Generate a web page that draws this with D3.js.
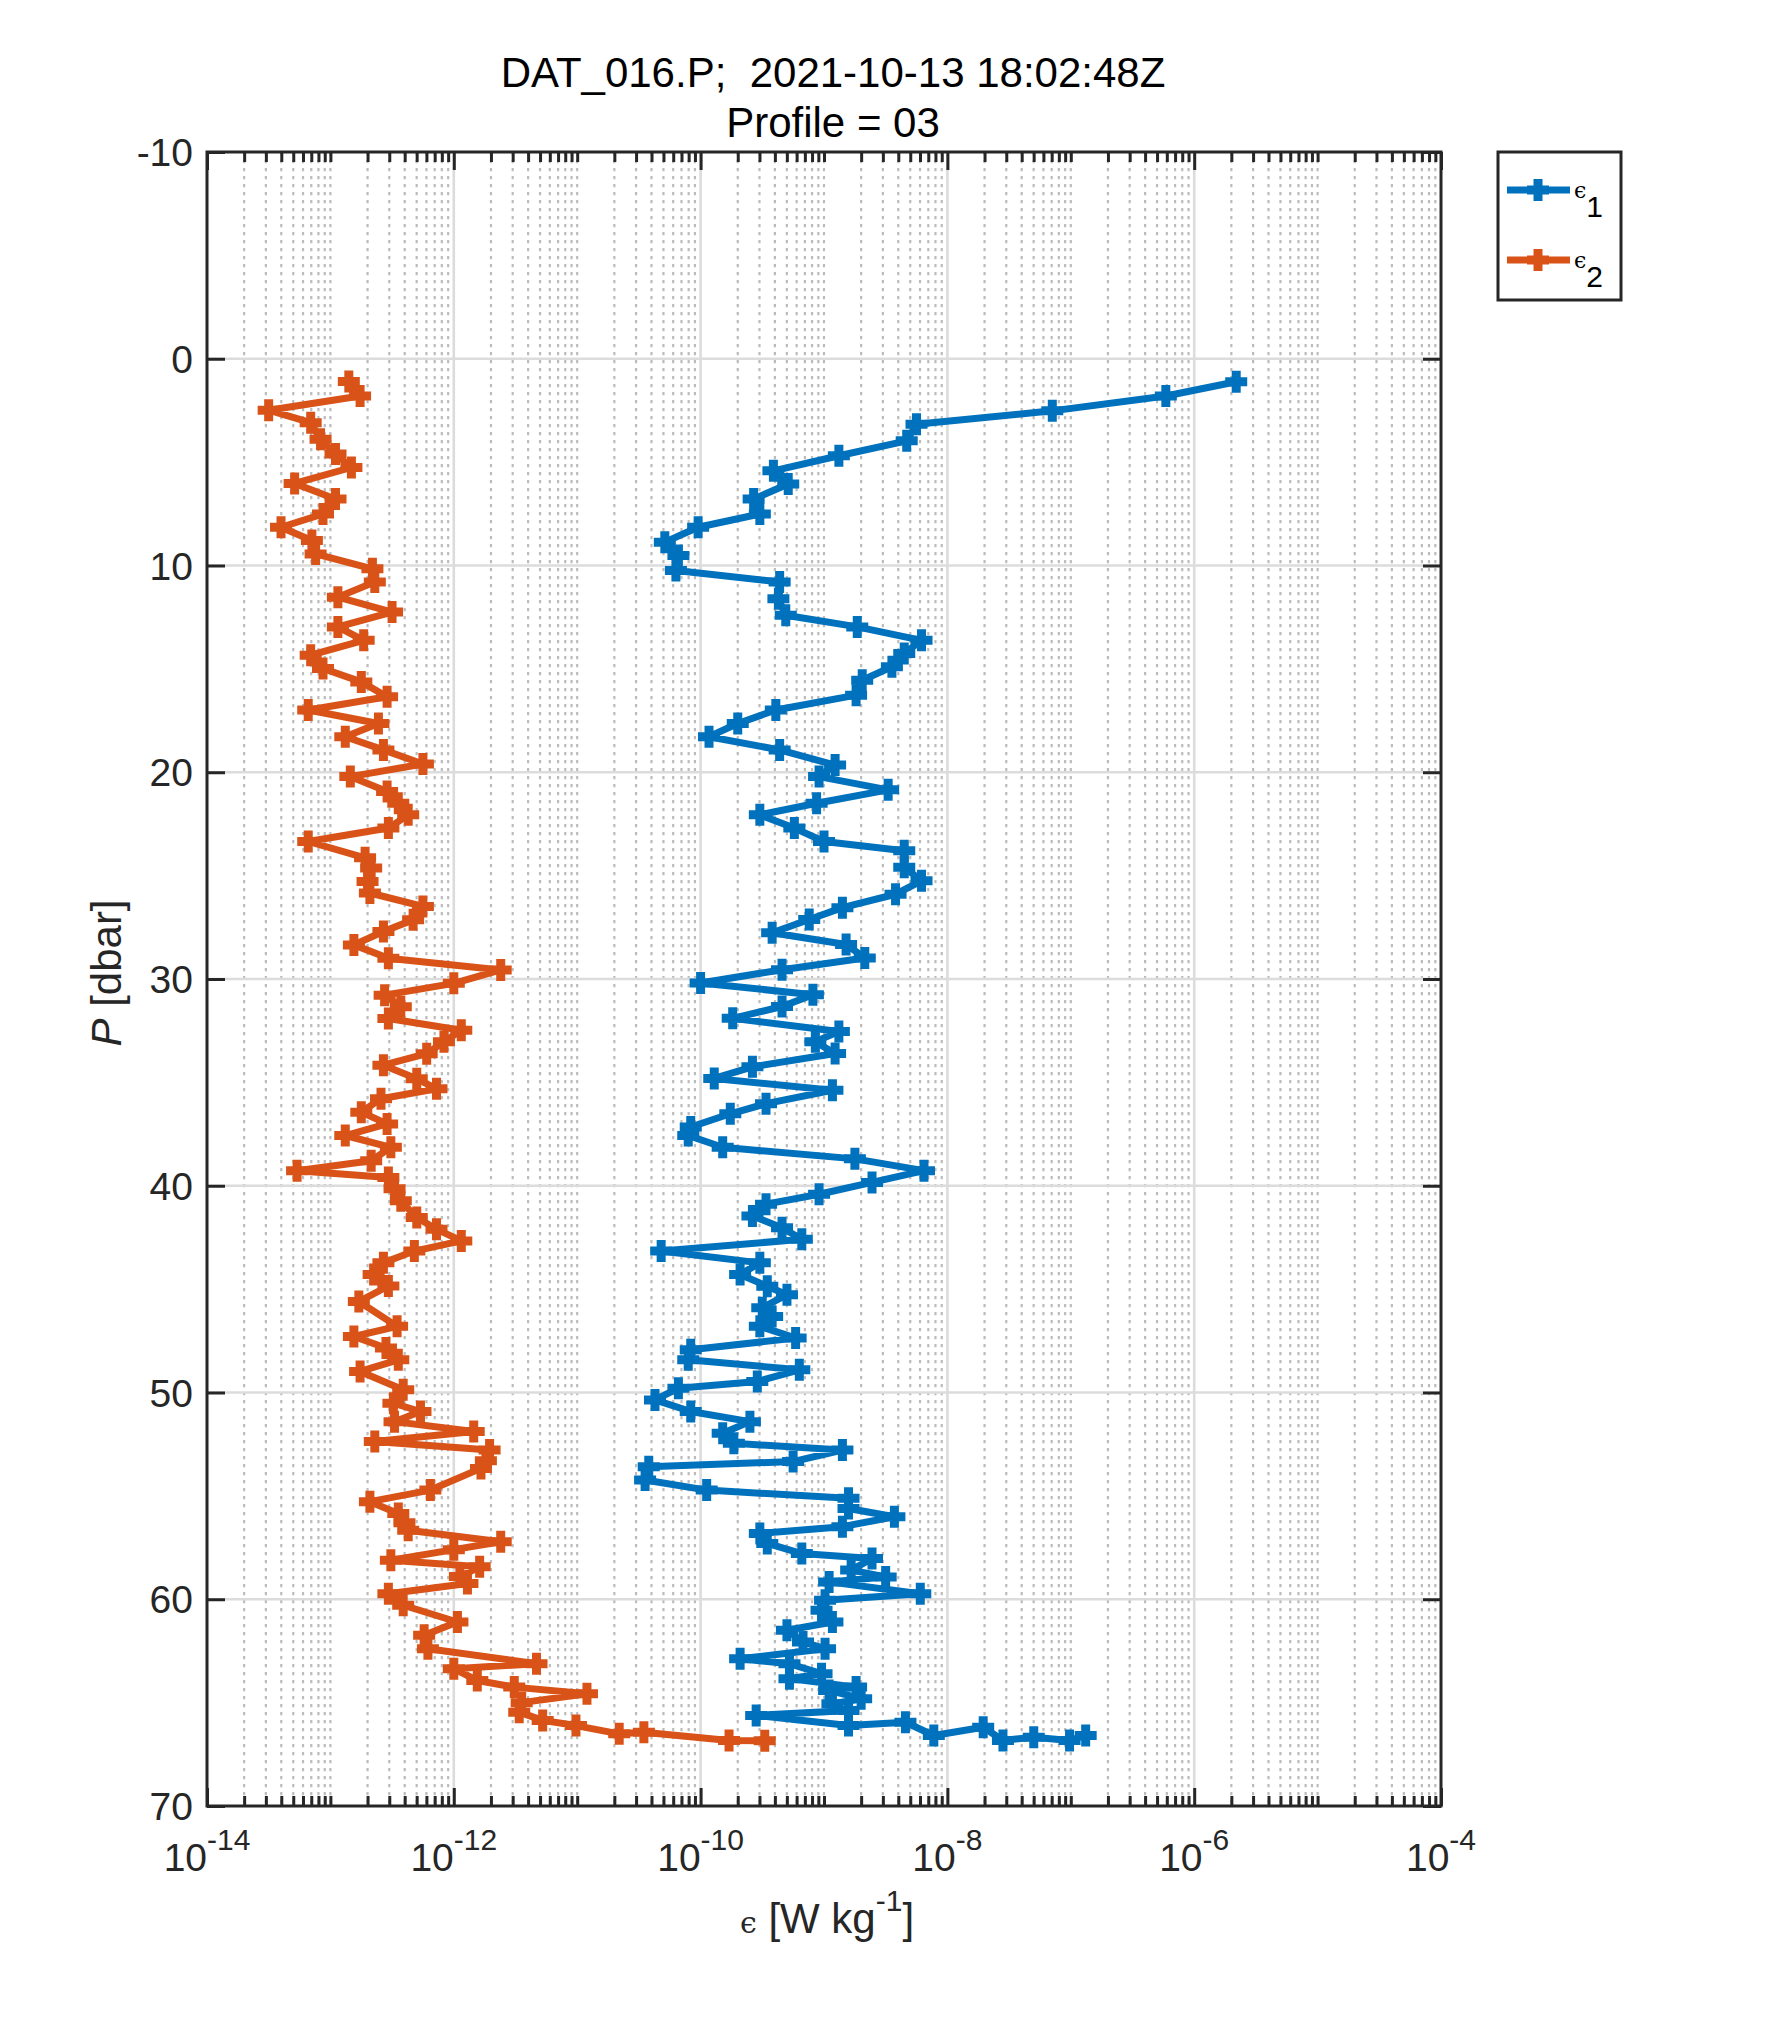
<!DOCTYPE html>
<html>
<head>
<meta charset="utf-8">
<script src="https://cdn.jsdelivr.net/npm/d3@7"></script>
<style>
  html, body { margin: 0; padding: 0; background: #ffffff; }
  svg { display: block; }
  text { font-family: "Liberation Sans", Arial, Helvetica, sans-serif; white-space: pre; }
</style>
</head>
<body>
<svg id="chart" width="1772" height="2029"></svg>
<script>
// ---------------- data ----------------
const titleLines = ["DAT_016.P;\u00A0 2021-10-13 18:02:48Z", "Profile = 03"];
const seriesNames = ["1", "2"];
const yTicks = [-10, 0, 10, 20, 30, 40, 50, 60, 70];
const xTickExponents = [-14, -12, -10, -8, -6, -4];

// epsilon_1 (blue)
const pressure1 = [1.11, 1.80, 2.52, 3.17, 3.97, 4.69, 5.42, 6.06, 6.78, 7.51, 8.15, 8.87, 9.52, 10.24,
  10.80, 11.61, 12.41, 12.97, 13.62, 14.26, 14.90, 15.55, 16.27, 16.99, 17.64, 18.28, 18.92, 19.65,
  20.21, 20.85, 21.50, 22.06, 22.70, 23.35, 23.80, 24.60, 25.25, 25.90, 26.55, 27.12, 27.76, 28.33,
  28.98, 29.55, 30.19, 30.76, 31.33, 31.90, 32.54, 33.03, 33.60, 34.25, 34.81, 35.38, 36.03, 36.52,
  37.16, 37.57, 38.14, 38.70, 39.27, 39.84, 40.41, 40.89, 41.46, 42.03, 42.59, 43.16, 43.73, 44.29,
  44.86, 45.27, 45.90, 46.32, 46.80, 47.37, 47.93, 48.42, 48.90, 49.47, 49.79, 50.36, 50.92, 51.41,
  51.97, 52.46, 52.78, 53.34, 53.59, 54.23, 54.72, 55.12, 55.61, 56.01, 56.49, 56.82, 57.30, 57.79,
  58.03, 58.59, 58.92, 59.16, 59.73, 60.05, 60.53, 61.10, 61.50, 62.07, 62.39, 62.88, 63.12, 63.60,
  63.84, 64.25, 64.41, 64.81, 65.06, 65.38, 65.62, 66.11, 65.95, 66.59, 66.19, 66.83, 66.67, 66.83, 66.59];
const eps1 = [2.19e-6, 5.89e-7, 7.08e-8, 5.62e-9, 4.68e-9, 1.32e-9, 3.89e-10, 5.13e-10, 2.69e-10, 3.02e-10, 9.55e-11, 5.13e-11, 6.61e-11, 6.31e-11,
  4.37e-10, 4.27e-10, 4.90e-10, 1.86e-9, 6.17e-9, 4.47e-9, 3.55e-9, 2.04e-9, 1.82e-9, 4.07e-10, 2.00e-10, 1.17e-10, 4.37e-10, 1.23e-9,
  9.12e-10, 3.31e-9, 8.71e-10, 3.02e-10, 5.75e-10, 1.00e-9, 4.47e-9, 4.47e-9, 6.17e-9, 3.80e-9, 1.41e-9, 7.59e-10, 3.80e-10, 1.51e-9,
  2.14e-9, 4.57e-10, 1.00e-10, 8.13e-10, 4.57e-10, 1.82e-10, 1.32e-9, 8.51e-10, 1.23e-9, 2.63e-10, 1.29e-10, 1.17e-9, 3.39e-10, 1.74e-10,
  8.32e-11, 7.94e-11, 1.51e-10, 1.78e-9, 6.46e-9, 2.45e-9, 9.12e-10, 3.39e-10, 2.63e-10, 4.57e-10, 6.61e-10, 4.79e-11, 3.02e-10, 2.09e-10,
  3.47e-10, 5.01e-10, 3.16e-10, 3.80e-10, 3.02e-10, 5.89e-10, 8.32e-11, 7.94e-11, 6.31e-10, 2.88e-10, 6.61e-11, 4.27e-11, 8.32e-11, 2.51e-10,
  1.51e-10, 1.86e-10, 1.41e-9, 5.62e-10, 3.80e-11, 3.55e-11, 1.12e-10, 1.58e-9, 1.58e-9, 3.72e-9, 1.41e-9, 3.02e-10, 3.47e-10, 6.61e-10,
  2.45e-9, 1.66e-9, 3.16e-9, 1.10e-9, 6.03e-9, 1.02e-9, 9.55e-10, 1.17e-9, 5.01e-10, 6.76e-10, 1.02e-9, 2.09e-10, 5.25e-10, 9.55e-10,
  5.25e-10, 1.82e-9, 1.10e-9, 2.00e-9, 1.17e-9, 1.58e-9, 2.82e-10, 1.58e-9, 4.57e-9, 7.76e-9, 1.95e-8, 2.82e-8, 5.01e-8, 9.77e-8, 1.32e-7];

// epsilon_2 (orange)
const pressure2 = [1.10, 1.80, 2.49, 3.09, 3.89, 4.61, 5.26, 6.03, 6.78, 7.51, 8.15, 8.79, 9.44, 10.16,
  10.80, 11.53, 12.25, 12.97, 13.62, 14.34, 14.98, 15.63, 16.35, 16.99, 17.64, 18.28, 18.92, 19.60,
  20.21, 20.93, 21.50, 22.06, 22.70, 23.35, 24.14, 24.63, 25.28, 25.84, 26.49, 27.14, 27.70, 28.35,
  29.00, 29.56, 30.21, 30.78, 31.34, 31.91, 32.48, 33.04, 33.61, 34.17, 34.82, 35.31, 35.79, 36.44,
  37.01, 37.57, 38.14, 38.79, 39.27, 39.60, 40.15, 40.73, 41.54, 42.10, 42.67, 43.16, 43.72, 44.29,
  44.85, 45.60, 46.80, 47.29, 47.85, 48.42, 48.98, 49.87, 50.52, 50.92, 51.41, 51.89, 52.37, 52.78,
  53.30, 53.67, 54.72, 55.28, 55.85, 56.30, 56.66, 57.22, 57.60, 58.11, 58.43, 58.90, 59.24, 59.73,
  60.29, 61.10, 61.74, 62.39, 63.12, 63.36, 63.93, 64.25, 64.57, 65.00, 65.46, 65.86, 66.11, 66.51,
  66.43, 66.83, 66.85];
const eps2 = [1.41e-13, 1.74e-13, 3.16e-14, 6.92e-14, 8.32e-14, 1.10e-13, 1.48e-13, 5.13e-14, 1.10e-13, 8.71e-14, 3.98e-14, 7.08e-14, 7.59e-14, 2.19e-13,
  2.29e-13, 1.15e-13, 3.16e-13, 1.15e-13, 1.86e-13, 6.92e-14, 8.71e-14, 1.78e-13, 2.88e-13, 6.61e-14, 2.45e-13, 1.32e-13, 2.69e-13, 5.62e-13,
  1.45e-13, 2.88e-13, 3.55e-13, 4.27e-13, 2.95e-13, 6.61e-14, 1.91e-13, 2.14e-13, 2.00e-13, 2.09e-13, 5.62e-13, 4.68e-13, 2.69e-13, 1.55e-13,
  2.95e-13, 2.40e-12, 1.00e-12, 2.75e-13, 3.72e-13, 2.95e-13, 1.15e-12, 8.32e-13, 6.03e-13, 2.69e-13, 5.01e-13, 7.24e-13, 2.57e-13, 1.78e-13,
  2.88e-13, 1.32e-13, 3.09e-13, 2.14e-13, 5.37e-14, 2.95e-13, 3.31e-13, 3.72e-13, 5.01e-13, 7.24e-13, 1.15e-12, 4.79e-13, 2.69e-13, 2.24e-13,
  2.95e-13, 1.70e-13, 3.47e-13, 1.55e-13, 2.82e-13, 3.55e-13, 1.74e-13, 3.89e-13, 3.24e-13, 5.37e-13, 3.31e-13, 1.45e-12, 2.29e-13, 1.95e-12,
  1.82e-12, 1.66e-12, 6.46e-13, 2.09e-13, 3.55e-13, 3.98e-13, 4.27e-13, 2.40e-12, 1.00e-12, 3.09e-13, 1.62e-12, 1.12e-12, 1.29e-12, 2.95e-13,
  3.89e-13, 1.07e-12, 5.75e-13, 6.17e-13, 4.68e-12, 1.00e-12, 1.55e-12, 3.09e-12, 1.20e-11, 3.55e-12, 3.39e-12, 5.25e-12, 9.77e-12, 2.19e-11,
  3.47e-11, 1.70e-10, 3.31e-10];

const colors = ["#0072BD", "#D95319"];

// ---------------- layout ----------------
const L = 207, R = 1441, T = 152, B = 1806;
const svg = d3.select("#chart");
svg.append("rect").attr("width", 1772).attr("height", 2029).attr("fill", "#fff");

const x = d3.scaleLog().domain([1e-14, 1e-4]).range([L, R]);
const y = d3.scaleLinear().domain([-10, 70]).range([T, B]);

const majorX = xTickExponents.map(e => Math.pow(10, e));
const minorX = [];
for (let k = -14; k < -4; k++) {
  for (let m = 1; m <= 9; m++) {
    if (m === 1 && k % 2 === 0) continue;
    minorX.push(m * Math.pow(10, k));
  }
}

// ---------------- grid ----------------
const grid = svg.append("g");
grid.selectAll(".minv").data(minorX).join("line")
  .attr("x1", d => x(d)).attr("x2", d => x(d))
  .attr("y1", T).attr("y2", B)
  .attr("stroke", "#bcbcbc").attr("stroke-width", 2.2)
  .attr("stroke-dasharray", "3.2,4.8");
grid.selectAll(".majv").data(majorX.slice(1, -1)).join("line")
  .attr("x1", d => x(d)).attr("x2", d => x(d))
  .attr("y1", T).attr("y2", B)
  .attr("stroke", "#dcdcdc").attr("stroke-width", 2.6);
grid.selectAll(".majh").data(yTicks.slice(1, -1)).join("line")
  .attr("x1", L).attr("x2", R)
  .attr("y1", d => y(d)).attr("y2", d => y(d))
  .attr("stroke", "#dcdcdc").attr("stroke-width", 2.6);

// ---------------- axes (inward ticks) ----------------
const axisColor = "#262626";
function styleAxis(g) {
  g.selectAll(".domain").remove();
  g.selectAll(".tick line").attr("stroke", axisColor).attr("stroke-width", 3);
  g.selectAll(".tick text").remove();
}
svg.append("g").attr("transform", `translate(0,${B})`)
  .call(d3.axisBottom(x).tickValues(minorX).tickSize(-10).tickFormat(""))
  .call(styleAxis);
svg.append("g").attr("transform", `translate(0,${B})`)
  .call(d3.axisBottom(x).tickValues(majorX).tickSize(-18).tickFormat(""))
  .call(styleAxis);
svg.append("g").attr("transform", `translate(0,${T})`)
  .call(d3.axisTop(x).tickValues(minorX).tickSize(-10).tickFormat(""))
  .call(styleAxis);
svg.append("g").attr("transform", `translate(0,${T})`)
  .call(d3.axisTop(x).tickValues(majorX).tickSize(-18).tickFormat(""))
  .call(styleAxis);
svg.append("g").attr("transform", `translate(${L},0)`)
  .call(d3.axisLeft(y).tickValues(yTicks).tickSize(-18).tickFormat(""))
  .call(styleAxis);
svg.append("g").attr("transform", `translate(${R},0)`)
  .call(d3.axisRight(y).tickValues(yTicks).tickSize(-18).tickFormat(""))
  .call(styleAxis);

svg.append("rect").attr("x", L).attr("y", T).attr("width", R - L).attr("height", B - T)
  .attr("fill", "none").attr("stroke", axisColor).attr("stroke-width", 3);

// tick labels
const xLab = svg.append("g").selectAll("text").data(xTickExponents).join("text")
  .attr("x", d => x(Math.pow(10, d))).attr("y", 1871)
  .attr("text-anchor", "middle").attr("font-size", 39).attr("fill", axisColor);
xLab.append("tspan").text("10");
xLab.append("tspan").attr("dy", -21).attr("font-size", 30).text(d => String(d));

svg.append("g").selectAll("text").data(yTicks).join("text")
  .attr("x", 193).attr("y", d => y(d)).attr("dy", "0.36em")
  .attr("text-anchor", "end").attr("font-size", 39).attr("fill", axisColor)
  .text(d => String(d));

// axis labels
const xl = svg.append("text").attr("x", 827).attr("y", 1933)
  .attr("text-anchor", "middle").attr("font-size", 42).attr("fill", axisColor);
xl.append("tspan").attr("font-family", "DejaVu Serif").attr("font-size", 30).text("\u03F5");
xl.append("tspan").text(" [W kg");
xl.append("tspan").attr("dy", -22).attr("font-size", 30).text("-1");
xl.append("tspan").attr("dy", 22).text("]");

const yl = svg.append("text").attr("transform", "translate(121,973) rotate(-90)")
  .attr("text-anchor", "middle").attr("font-size", 42).attr("fill", axisColor);
yl.append("tspan").attr("font-style", "italic").text("P");
yl.append("tspan").text(" [dbar]");

// title
svg.append("g").selectAll("text").data(titleLines).join("text")
  .attr("x", 833).attr("y", (d, i) => 87 + i * 50)
  .attr("text-anchor", "middle").attr("font-size", 42).attr("fill", "#000")
  .text(d => d);

// ---------------- data ----------------
const series = [
  { P: pressure1, E: eps1, color: colors[0] },
  { P: pressure2, E: eps2, color: colors[1] }
];
const plus = "M-11,0H11M0,-11V11";
const line = d3.line().x(d => x(d[1])).y(d => y(d[0]));
series.forEach(s => {
  const pts = s.P.map((p, i) => [p, s.E[i]]);
  const g = svg.append("g");
  g.append("path").datum(pts).attr("d", line)
    .attr("fill", "none").attr("stroke", s.color).attr("stroke-width", 7)
    .attr("stroke-linejoin", "round");
  g.selectAll("path.m").data(pts).join("path").attr("class", "m")
    .attr("d", plus)
    .attr("transform", d => `translate(${x(d[1])},${y(d[0])})`)
    .attr("stroke", s.color).attr("stroke-width", 9).attr("fill", "none");
});

// ---------------- legend ----------------
const lg = svg.append("g");
lg.append("rect").attr("x", 1498).attr("y", 152).attr("width", 123).attr("height", 148)
  .attr("fill", "#fff").attr("stroke", axisColor).attr("stroke-width", 3);
seriesNames.forEach((nm, i) => {
  const cy = 190 + i * 70;
  lg.append("line").attr("x1", 1507).attr("x2", 1570).attr("y1", cy).attr("y2", cy)
    .attr("stroke", colors[i]).attr("stroke-width", 7);
  lg.append("path").attr("d", plus).attr("transform", `translate(1538,${cy})`)
    .attr("stroke", colors[i]).attr("stroke-width", 9).attr("fill", "none");
  const t = lg.append("text").attr("x", 1574).attr("y", cy + 8).attr("fill", "#000");
  t.append("tspan").attr("font-family", "DejaVu Serif").attr("font-size", 22).text("\u03F5");
  t.append("tspan").attr("dy", 19).attr("font-size", 30).text(nm);
});
</script>
</body>
</html>
